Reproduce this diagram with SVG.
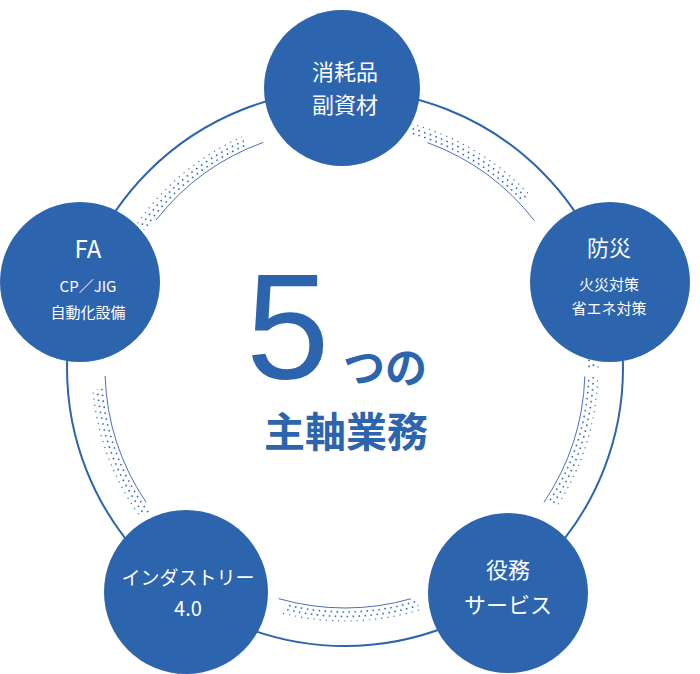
<svg xmlns="http://www.w3.org/2000/svg" width="700" height="674" viewBox="0 0 700 674">
<style>
.n{fill:#2c64ae}
.t{fill:#fff;font-family:"Noto Sans CJK JP","Noto Sans",sans-serif;text-anchor:middle}
.c{fill:#2c64ae;font-family:"Noto Sans CJK JP","Liberation Sans",sans-serif;font-weight:bold}
.five{fill:#2c64ae;font-family:"Liberation Sans",sans-serif;font-weight:normal}
</style>
<defs>
<mask id="bm"><circle cx="345" cy="368" r="246" fill="none" stroke="#fff" stroke-width="16" stroke-dasharray="135.1 168.9" stroke-dashoffset="-8.6"/></mask>
</defs>
<rect width="700" height="674" fill="#fff"/>
<g id="connectors">
<circle cx="345" cy="368" r="278" fill="none" stroke="#2c64ae" stroke-width="2"/>
<circle cx="345" cy="368" r="240" fill="none" stroke="#4a70b8" stroke-width="1" stroke-dasharray="134.04 167.55" stroke-dashoffset="-8.38"/>
<g mask="url(#bm)" fill="none" stroke="#3a6cb4" stroke-width="1.6">
<circle cx="345" cy="368" r="244" stroke-dasharray="1.6 4.4"/>
<circle cx="345" cy="368" r="248.5" stroke-dasharray="1.6 4.4" stroke-dashoffset="3"/>
<circle cx="345" cy="368" r="253" stroke-dasharray="1.2 5" stroke-width="1.2"/>
</g>
</g>
<g id="n1"><circle class="n" cx="342" cy="88" r="78"/><text class="t" x="345" y="80" font-size="22">消耗品</text><text class="t" x="345" y="113" font-size="22">副資材</text></g>
<g id="n2"><circle class="n" cx="610" cy="282" r="80"/><text class="t" x="609" y="256" font-size="22">防災</text><text class="t" x="609" y="290" font-size="15">火災対策</text><text class="t" x="609" y="314" font-size="15">省エネ対策</text></g>
<g id="n3"><circle class="n" cx="508" cy="593" r="80"/><text class="t" x="508" y="578" font-size="22">役務</text><text class="t" x="508" y="613" font-size="22">サービス</text></g>
<g id="n4"><circle class="n" cx="186" cy="592" r="82"/><text class="t" x="188" y="585" font-size="19">インダストリー</text><text class="t" x="188" y="616" font-size="20">4.0</text></g>
<g id="n5"><circle class="n" cx="80" cy="282" r="80"/><text class="t" x="88" y="258" font-size="24">FA</text><text class="t" x="88" y="292" font-size="15">CP／JIG</text><text class="t" x="88" y="318" font-size="15">自動化設備</text></g>
<g id="center">
<text class="five" x="246" y="379" font-size="150">5</text>
<text class="c" x="343" y="383" font-size="42">つの</text>
<text class="c" x="264" y="447" font-size="41">主軸業務</text>
</g>
</svg>
